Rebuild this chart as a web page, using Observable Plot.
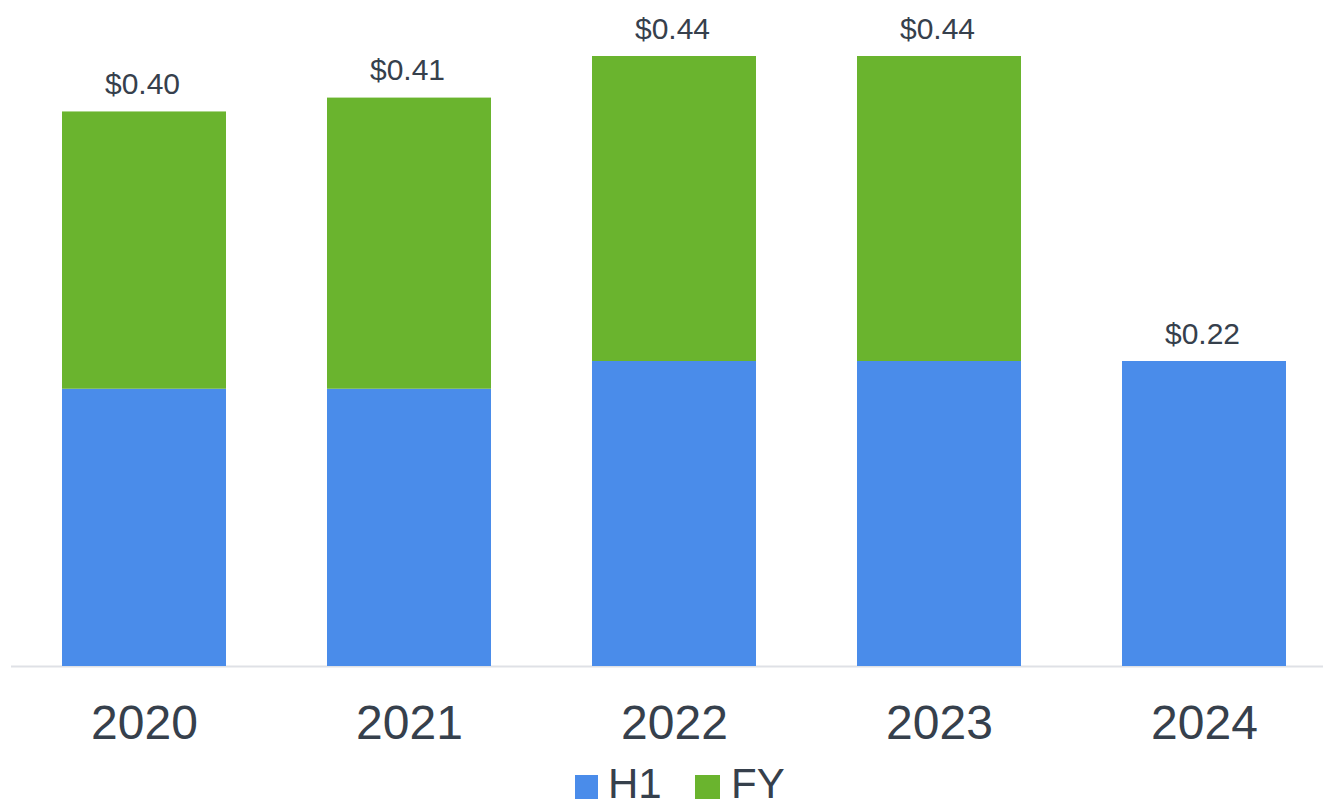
<!DOCTYPE html>
<html>
<head>
<meta charset="utf-8">
<script src="https://cdn.jsdelivr.net/npm/d3@7"></script>
<script src="https://cdn.jsdelivr.net/npm/@observablehq/plot@0.6"></script>
<style>
  html, body { margin: 0; padding: 0; background: #fff; }
  body { width: 1323px; height: 808px; overflow: hidden; font-family: "Liberation Sans", Arial, sans-serif; }
  #legend { position: relative; height: 42px; color: #36404c; font-size: 42px; }
  #legend .sw { position: absolute; width: 23px; height: 24px; top: 9px; }
  #legend .lb { position: absolute; top: 2px; line-height: 32px; height: 32px; }
</style>
</head>
<body>
<div id="chart"></div>
<div id="legend">
  <div class="sw" style="left:575px;background:#4a8cea"></div>
  <div class="lb" style="left:608px">H1</div>
  <div class="sw" style="left:695px;width:25px;background:#6ab42e"></div>
  <div class="lb" style="left:731px">FY</div>
</div>
<script>
const years = ["2020", "2021", "2022", "2023", "2024"];
const h1 = [0.20, 0.20, 0.22, 0.22, 0.22];
const fy = [0.40, 0.41, 0.44, 0.44, null];
const labels = ["$0.40", "$0.41", "$0.44", "$0.44", "$0.22"];

const rows = years.map((y, i) => ({year: y, h1: h1[i], fy: fy[i], top: fy[i] ?? h1[i], label: labels[i]}));
const fyRows = rows.filter(d => d.fy != null);

const blue = "#4a8cea", green = "#6ab42e", ink = "#36404c";

const chart = Plot.plot({
  width: 1323,
  height: 766,
  marginLeft: 11,
  marginRight: 0,
  marginTop: 56,
  marginBottom: 100,
  style: {fontFamily: '"Liberation Sans", Arial, sans-serif', background: "#fff", color: ink},
  x: {domain: years, range: [11, 1338], paddingInner: 0.38, paddingOuter: 0.19, label: null},
  y: {domain: [0, 0.44], axis: null},
  marks: [
    Plot.ruleY([0], {stroke: "#dfe1e6", strokeWidth: 2}),
    Plot.barY(rows, {x: "year", y1: 0, y2: "h1", fill: blue}),
    Plot.barY(fyRows, {x: "year", y1: "h1", y2: "fy", fill: green}),
    Plot.text(rows, {x: "year", y: "top", text: "label", lineAnchor: "bottom", dy: -18, dx: -2, fontSize: 30, fill: ink}),
    Plot.axisX({tickSize: 0, tickPadding: 38, fontSize: 48, color: ink, label: null})
  ]
});
document.getElementById("chart").appendChild(chart);
</script>
</body>
</html>
